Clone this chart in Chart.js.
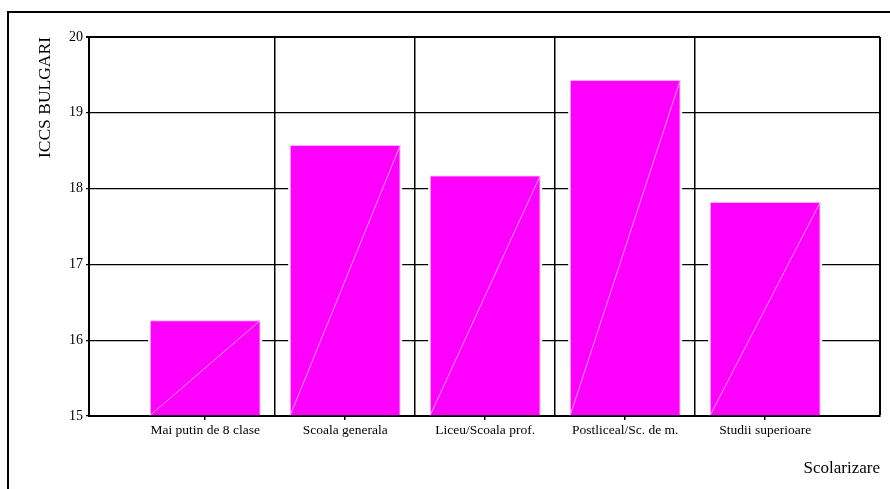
<!DOCTYPE html>
<html>
<head>
<meta charset="utf-8">
<script src="https://cdn.jsdelivr.net/npm/chart.js@4"></script>
<style>
  body { margin: 0; background: #fff; overflow: hidden; }
  #frame { position: absolute; left: 7px; top: 11px; width: 1000px; height: 1000px;
           border-left: 2px solid #000; border-top: 2px solid #000; }
  #wrap { position: absolute; left: 0; top: 0; width: 890px; height: 489px; }
</style>
</head>
<body>
<div id="frame"></div>
<div id="wrap"><canvas id="c" width="890" height="489"></canvas></div>
<script>
var categories = ['Mai putin de 8 clase', 'Scoala generala', 'Liceu/Scoala prof.', 'Postliceal/Sc. de m.', 'Studii superioare'];
var iccsValues = [16.26, 18.57, 18.17, 19.43, 17.82];
var yTicks = [15, 16, 17, 18, 19, 20];

var xMin = -0.83, xMax = 4.82;

// white halo behind bars + diagonal stripe inside each bar, like the SPSS fill
var barDiagonal = {
  id: 'barDiagonal',
  beforeDatasetsDraw: function (chart) {
    var ctx = chart.ctx;
    chart.getDatasetMeta(0).data.forEach(function (bar) {
      var p = bar.getProps(['x', 'y', 'base', 'width'], true);
      ctx.save();
      ctx.fillStyle = '#fff';
      ctx.fillRect(p.x - p.width / 2 - 2, p.y - 2, p.width + 4, p.base - p.y);
      ctx.restore();
    });
  },
  afterDatasetsDraw: function (chart) {
    var ctx = chart.ctx;
    chart.getDatasetMeta(0).data.forEach(function (bar) {
      var p = bar.getProps(['x', 'y', 'base', 'width'], true);
      ctx.save();
      ctx.strokeStyle = '#ff9cff';
      ctx.lineWidth = 1;
      ctx.beginPath();
      ctx.moveTo(p.x - p.width / 2, p.base);
      ctx.lineTo(p.x + p.width / 2, p.y);
      ctx.stroke();
      ctx.restore();
    });
  }
};

var ctx = document.getElementById('c').getContext('2d');
var chart = new Chart(ctx, {
  type: 'bar',
  data: {
    datasets: [{
      label: 'ICCS BULGARI',
      data: categories.map(function (c, i) { return { x: i, y: iccsValues[i] }; }),
      base: yTicks[0],
      backgroundColor: '#ff00ff',
      borderColor: '#ffb4ff',
      borderWidth: 1,
      barThickness: 110,
    }],
  },
  plugins: [barDiagonal],
  options: {
    responsive: false,
    animation: false,
    events: [],
    layout: { padding: { left: 0, top: 37, right: 10, bottom: 0 } },
    plugins: { legend: { display: false }, tooltip: { enabled: false } },
    scales: {
      x: {
        type: 'linear',
        offset: false,
        min: xMin,
        max: xMax,
        afterBuildTicks: function (scale) {
          var t = [];
          categories.forEach(function (c, i) {
            t.push({ value: i });
            if (i < categories.length - 1) t.push({ value: i + 0.5 });
          });
          t.push({ value: xMax });
          scale.ticks = t;
        },
        afterFit: function (scale) { scale.height = 73; },
        ticks: {
          autoSkip: false,
          maxRotation: 0,
          color: '#000',
          padding: 2,
          font: { family: 'Liberation Serif', size: 13.5 },
          callback: function (v) {
            return Number.isInteger(v) ? categories[v] : '';
          },
        },
        grid: {
          offset: false,
          tickLength: 4,
          lineWidth: function (c) { return c.tick && c.tick.value === xMax ? 2 : 1.5; },
          color: function (c) {
            return c.tick && !Number.isInteger(c.tick.value) ? '#000' : 'rgba(0,0,0,0)';
          },
          tickColor: function (c) {
            return c.tick && Number.isInteger(c.tick.value) ? '#000' : 'rgba(0,0,0,0)';
          },
        },
        border: { color: '#000', width: 2 },
        title: {
          display: true,
          text: 'Scolarizare',
          align: 'end',
          color: '#000',
          font: { family: 'Liberation Serif', size: 17 },
          padding: { top: 0, bottom: 10 },
        },
      },
      y: {
        min: 15,
        max: 20,
        afterBuildTicks: function (scale) {
          scale.ticks = yTicks.map(function (v) { return { value: v }; });
        },
        afterFit: function (scale) { scale.width = 89; },
        ticks: {
          color: '#000',
          padding: 3,
          font: { family: 'Liberation Serif', size: 14 },
        },
        grid: {
          tickLength: 3,
          color: '#000',
          lineWidth: function (c) { return c.tick && c.tick.value === 20 ? 2 : 1.3; },
        },
        border: { color: '#000', width: 2 },
        title: {
          display: true,
          text: 'ICCS BULGARI',
          align: 'end',
          color: '#000',
          font: { family: 'Liberation Serif', size: 17.5 },
          padding: { top: 35, bottom: 0 },
        },
      },
    },
  },
});
</script>
</body>
</html>
